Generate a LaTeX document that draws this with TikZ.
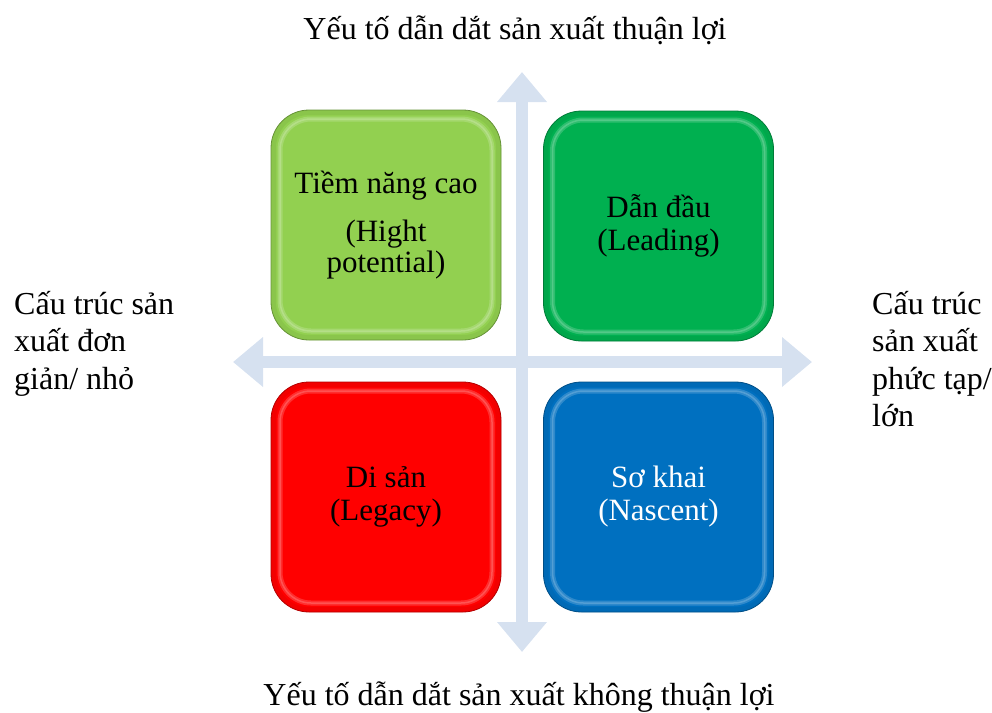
\documentclass[tikz,border=0pt]{standalone}
\usepackage{fontspec}
\setmainfont{Liberation Serif}
\usetikzlibrary{arrows.meta}
\definecolor{axisfill}{HTML}{D6E1F0}
\definecolor{qlime}{HTML}{92D050}
\definecolor{qgreen}{HTML}{00B050}
\definecolor{qred}{HTML}{FF0000}
\definecolor{qblue}{HTML}{0070C0}
\begin{document}
\begin{tikzpicture}[x=1pt,y=-1pt,
  axis/.style={draw=axisfill, line width=12pt,
    {Triangle[length=30pt,width=48pt]}-{Triangle[length=30pt,width=48pt]}},
  quad/.style={rounded corners=38pt, minimum width=230pt, minimum height=230pt,
    inner sep=0pt, align=center, fill=#1, draw=#1!70!black, line width=0.8pt,
    path picture={
      \draw[#1!80!black, line width=10pt, opacity=.25, rounded corners=38pt]
        (path picture bounding box.south west) rectangle
        (path picture bounding box.north east);
      \draw[#1!40!white, line width=5pt, opacity=.3, rounded corners=31pt]
        ([shift={(9pt,9pt)}]path picture bounding box.south west) rectangle
        ([shift={(-9pt,-9pt)}]path picture bounding box.north east);
      \draw[#1!40!white, line width=1.5pt, opacity=.35, rounded corners=31pt]
        ([shift={(9pt,9pt)}]path picture bounding box.south west) rectangle
        ([shift={(-9pt,-9pt)}]path picture bounding box.north east);
    }},
  boxtext/.style={font=\fontsize{31}{33}\selectfont},
  sidetext/.style={font=\fontsize{32}{37.5}\selectfont, inner sep=0pt, align=left}
]
\useasboundingbox (0,0) rectangle (992,712);

% axes
\coordinate (vtop) at (522,72);
\coordinate (vbot) at (522,652);
\coordinate (hleft) at (233,362);
\coordinate (hright) at (812,362);
\draw[axis] (vbot) -- (vtop);
\draw[axis] (hleft) -- (hright);

% quadrants
\node[quad=qlime, boxtext] (tl) at (386,225)
  {Tiềm năng cao\\[15pt](Hight\\[-2pt]potential)};
\node[quad=qgreen, boxtext] (tr) at (658.5,226) {Dẫn đầu\\(Leading)};
\node[quad=qred, boxtext] (bl) at (386,497) {Di sản\\(Legacy)};
\node[quad=qblue, boxtext, text=white] (br) at (658.5,497) {Sơ khai\\(Nascent)};

% axis labels
\node[sidetext, anchor=base] (ytop) at (515,39) {Yếu tố dẫn dắt sản xuất thuận lợi};
\node[sidetext, anchor=base] (ybot) at (519,705) {Yếu tố dẫn dắt sản xuất không thuận lợi};
\node[sidetext, anchor=north west] (xleft) at (14,291)
  {Cấu trúc sản\\xuất đơn\\giản/ nhỏ};
\node[sidetext, anchor=north west] (xright) at (872,291)
  {Cấu trúc\\sản xuất\\phức tạp/\\lớn};
\end{tikzpicture}
\end{document}
